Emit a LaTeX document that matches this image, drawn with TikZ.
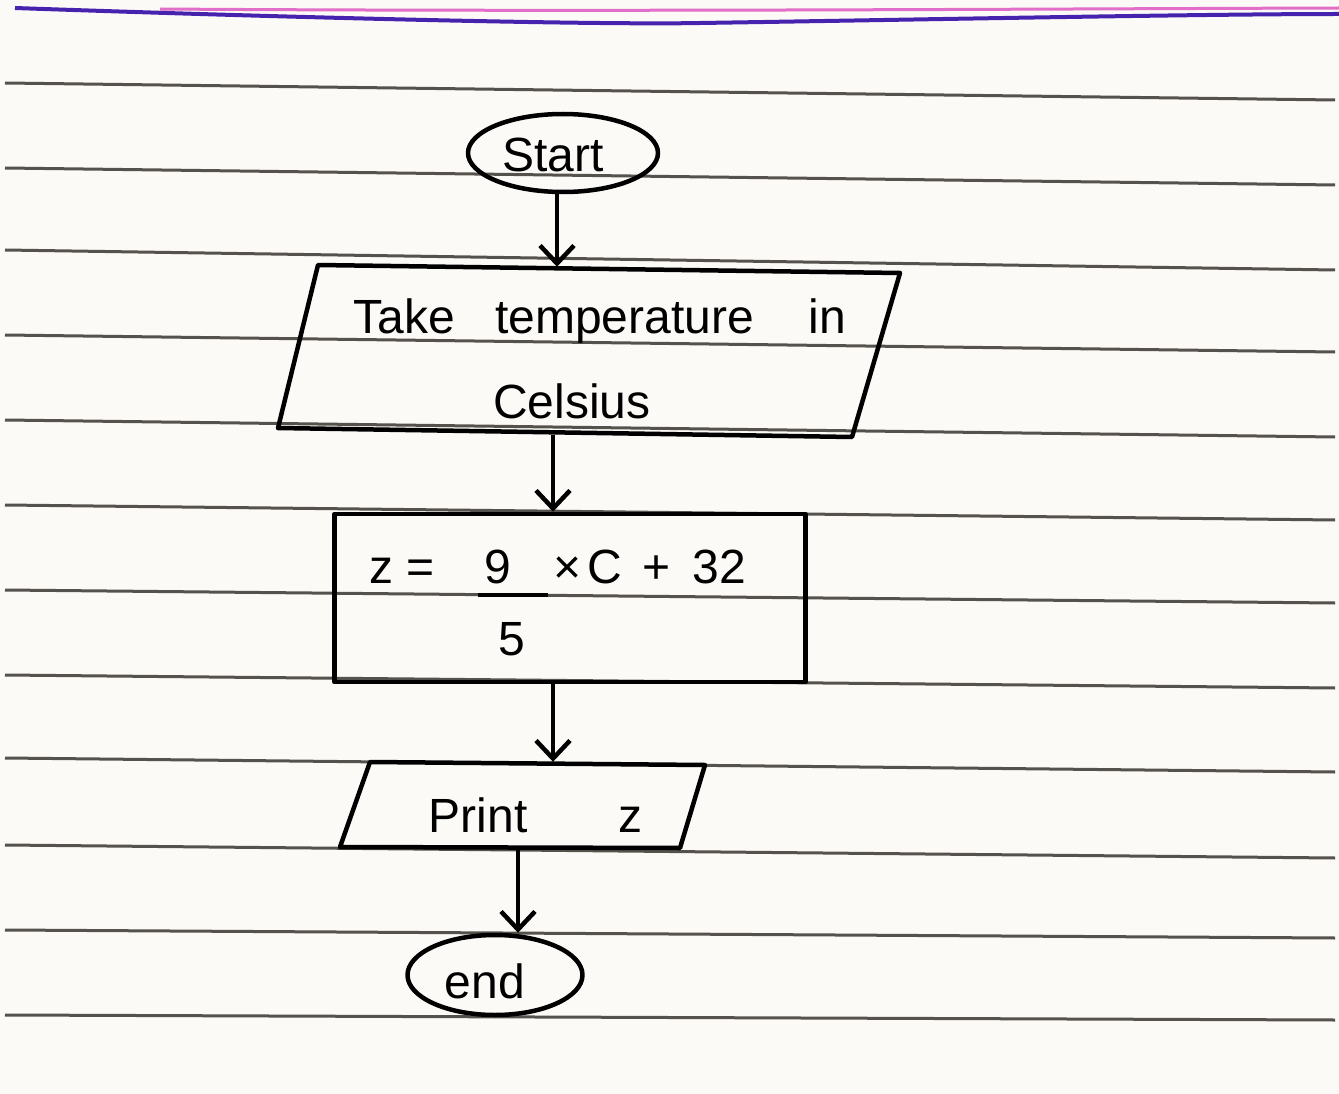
\documentclass[tikz,border=0pt]{standalone}
\usepackage{fontspec}
\setmainfont{Liberation Sans}
\usetikzlibrary{shapes.geometric,arrows.meta}
\definecolor{paper}{RGB}{252,250,246}
\definecolor{ruleline}{RGB}{85,82,78}
\definecolor{marginblue}{RGB}{70,35,175}
\definecolor{marginpink}{RGB}{225,110,200}
\begin{document}
\begin{tikzpicture}[x=1pt,y=-1pt,
  ink/.style={line width=4.5pt,draw=black,line join=round},
  paperrule/.style={line width=3pt,draw=ruleline},
  term/.style={ellipse,ink,inner sep=0pt},
  iobox/.style={rectangle,inner sep=0pt},
  proc/.style={rectangle,ink,inner sep=0pt},
  lbl/.style={font=\fontsize{48}{56}\selectfont,inner sep=0pt,anchor=base},
  arr/.style={ink,-{Straight Barb[length=18pt,width=34pt]}}]
\useasboundingbox (0,0) rectangle (1339,1094);
\fill[paper] (0,0) rectangle (1339,1094);
% notebook margin lines
\draw[line width=3pt,marginpink] (160,9) .. controls (600,12) and (1000,9) .. (1339,8);
\draw[line width=4pt,marginblue] (15,8) .. controls (300,18) and (600,25) .. (700,23) .. controls (900,20) and (1200,14) .. (1339,14);
% ruled lines
\foreach \a/\b in {83/100,168/185,250/270,335/352,420/437,505/520,590/603,675/688,758/772,845/858,930/938,1015/1020}
  \draw[paperrule] (5,\a) -- (1335,\b);

% shapes
\node[term,minimum width=190pt,minimum height=78pt] (start) at (563,153) {};

\node[iobox,minimum width=560pt,minimum height=168pt] (in1) at (589,351) {};
\coordinate (in1tl) at (318,265);
\coordinate (in1tr) at (900,273);
\coordinate (in1br) at (852,437);
\coordinate (in1bl) at (278,428);
\draw[ink] (in1tl) -- (in1tr) -- (in1br) -- (in1bl) -- cycle;

\node[proc,minimum width=471pt,minimum height=168pt] (calc) at (570,598) {};

\node[iobox,minimum width=330pt,minimum height=86pt] (out) at (522,805) {};
\coordinate (outtl) at (370,762);
\coordinate (outtr) at (705,765);
\coordinate (outbr) at (680,848);
\coordinate (outbl) at (340,847);
\draw[ink] (outtl) -- (outtr) -- (outbr) -- (outbl) -- cycle;

\node[term,minimum width=175pt,minimum height=80pt] (stop) at (495,975) {};

% texts
\node[lbl] (tstart) at (553,172) {Start};
\node[lbl] (tin1) at (600,333) {Take\hspace{40pt}temperature\hspace{55pt}in};
\node[lbl] (tin2) at (572,418) {Celsius};
\node[lbl] (tz) at (402,583) {z =};
\node[lbl] (tnine) at (498,583) {9};
\node[lbl] (trest) at (650,583) {×\hspace{6pt}C\hspace{20pt}+\hspace{22pt}32};
\node[lbl] (tfive) at (512,655) {5};
\coordinate (fl) at (478,595);
\coordinate (fr) at (548,595);
\draw[ink] (fl) -- (fr);
\node[lbl] (tprint) at (478,832) {Print};
\node[lbl] (tzz) at (630,832) {z};
\node[lbl] (tend) at (485,998) {end};

% connectors
\draw[arr] ([xshift=-6pt]start.south) -- ([xshift=-6pt]start.south |- in1.north);
\draw[arr] ([xshift=-36pt]in1.south) -- ([xshift=-36pt]in1.south |- calc.north);
\draw[arr] ([xshift=-17pt]calc.south) -- ([xshift=-17pt]calc.south |- out.north);
\draw[arr] ([xshift=-4pt]out.south) -- ([xshift=-4pt]out.south |- stop.north);
\end{tikzpicture}
\end{document}
